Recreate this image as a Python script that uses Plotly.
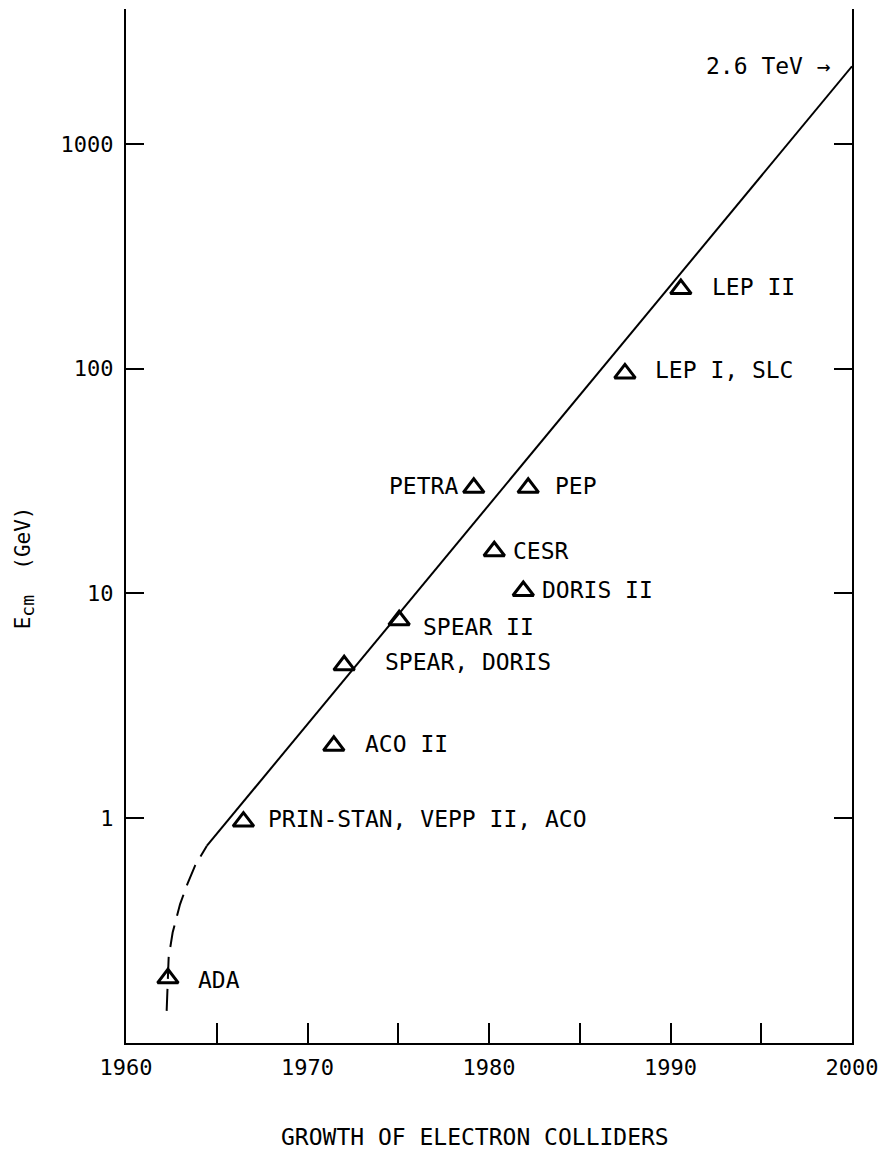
import numpy as np
import plotly.graph_objects as go

# ---- data ----
names = ["ADA", "PRIN-STAN, VEPP II, ACO", "ACO II", "SPEAR, DORIS", "SPEAR II",
         "PETRA", "CESR", "PEP", "DORIS II", "LEP I, SLC", "LEP II"]
years = [1962.31, 1966.47, 1971.45, 1972.02, 1975.05,
         1979.16, 1980.29, 1982.16, 1981.89, 1987.49, 1990.57]
energies = [0.194, 0.966, 2.10, 4.79, 7.6,
            29.5, 15.4, 29.5, 10.25, 95.2, 226]

# trend line (solid part) and early extrapolation (dashed part)
trend_years = [1964.45, 2000.0]
trend_energy = [0.753, 2214]
early_years = [1962.24, 1962.27, 1962.30, 1962.35, 1962.57, 1962.98, 1963.38, 1963.80, 1964.45]
early_energy = [0.139, 0.174, 0.20, 0.24, 0.31, 0.415, 0.509, 0.614, 0.753]

x_tickvals = [1960, 1970, 1980, 1990, 2000]
x_ticktext = ["1960", "1970", "1980", "1990", "2000"]
y_tickvals = [1, 10, 100, 1000]
y_ticktext = ["1", "10", "100", "1000"]

# label placement (pixel offsets from marker, xanchor)
label_dx = [28, 23, 29, 39, 22, -14, 17, 25, 17, 28, 29]
label_dy = [-2, 3, 2, 3, -7, 2, 0, 2, 1, 3, 2]
label_anchor = ["left", "left", "left", "left", "left", "right",
                "left", "left", "left", "left", "left"]

FONT = "DejaVu Sans Mono"

fig = go.Figure()
fig.add_trace(go.Scatter(x=early_years, y=early_energy, mode="lines",
                         line=dict(color="black", width=2, dash="22px,10px"),
                         hoverinfo="skip"))
fig.add_trace(go.Scatter(x=trend_years, y=trend_energy, mode="lines",
                         line=dict(color="black", width=2), hoverinfo="skip"))
fig.add_trace(go.Scatter(x=years, y=energies, mode="markers",
                         marker=dict(symbol="triangle-up-open", size=18,
                                     color="black", line=dict(color="black", width=3)),
                         text=names, hoverinfo="text"))

for n, xv, yv, dx, dy, anc in zip(names, years, energies, label_dx, label_dy, label_anchor):
    fig.add_annotation(x=xv, y=np.log10(yv), text=n, showarrow=False,
                       xanchor=anc, yanchor="middle", xshift=dx, yshift=dy,
                       font=dict(family=FONT, size=23, color="black"))

fig.add_annotation(x=trend_years[-1], y=np.log10(trend_energy[-1]), text="2.6 TeV →",
                   showarrow=False, xanchor="right", yanchor="middle", xshift=-19, yshift=0,
                   font=dict(family=FONT, size=23, color="black"))

fig.add_annotation(xref="paper", yref="paper", x=-0.1405, y=0.46,
                   text="E<sub><span style='font-size:18px'>cm</span></sub>  (GeV)",
                   textangle=-90, showarrow=False,
                   xanchor="center", yanchor="middle",
                   font=dict(family=FONT, size=21, color="black"))

fig.add_annotation(xref="paper", yref="paper", x=0.4807, y=-0.0905,
                   text="GROWTH OF ELECTRON COLLIDERS", showarrow=False,
                   xanchor="center", yanchor="middle",
                   font=dict(family=FONT, size=23, color="black"))

fig.update_layout(
    width=878, height=1151,
    margin=dict(l=126, r=26, t=8.5, b=108, autoexpand=False),
    plot_bgcolor="white", paper_bgcolor="white",
    showlegend=False,
    font=dict(family=FONT, color="black"),
    xaxis=dict(range=[1960, 2000], tickmode="array", tickvals=x_tickvals, ticktext=x_ticktext,
               ticks="inside", ticklen=20, tickwidth=2, tickcolor="black",
               minor=dict(tick0=1960, dtick=5, ticks="inside", ticklen=20,
                          tickwidth=2, tickcolor="black", showgrid=False),
               showline=True, linewidth=2, linecolor="black", mirror=False,
               showgrid=False, zeroline=False, ticklabelstandoff=4,
               ticklabeloverflow="allow", automargin=False,
               tickfont=dict(family=FONT, size=22, color="black")),
    yaxis=dict(type="log", range=[-1, 3.6], tickmode="array", tickvals=y_tickvals,
               ticktext=y_ticktext, ticks="inside", ticklen=18, tickwidth=2, tickcolor="black",
               showline=True, linewidth=2, linecolor="black", mirror="ticks",
               showgrid=False, zeroline=False, ticklabelstandoff=6, automargin=False,
               tickfont=dict(family=FONT, size=22, color="black")),
)

fig.write_html("out.html")
